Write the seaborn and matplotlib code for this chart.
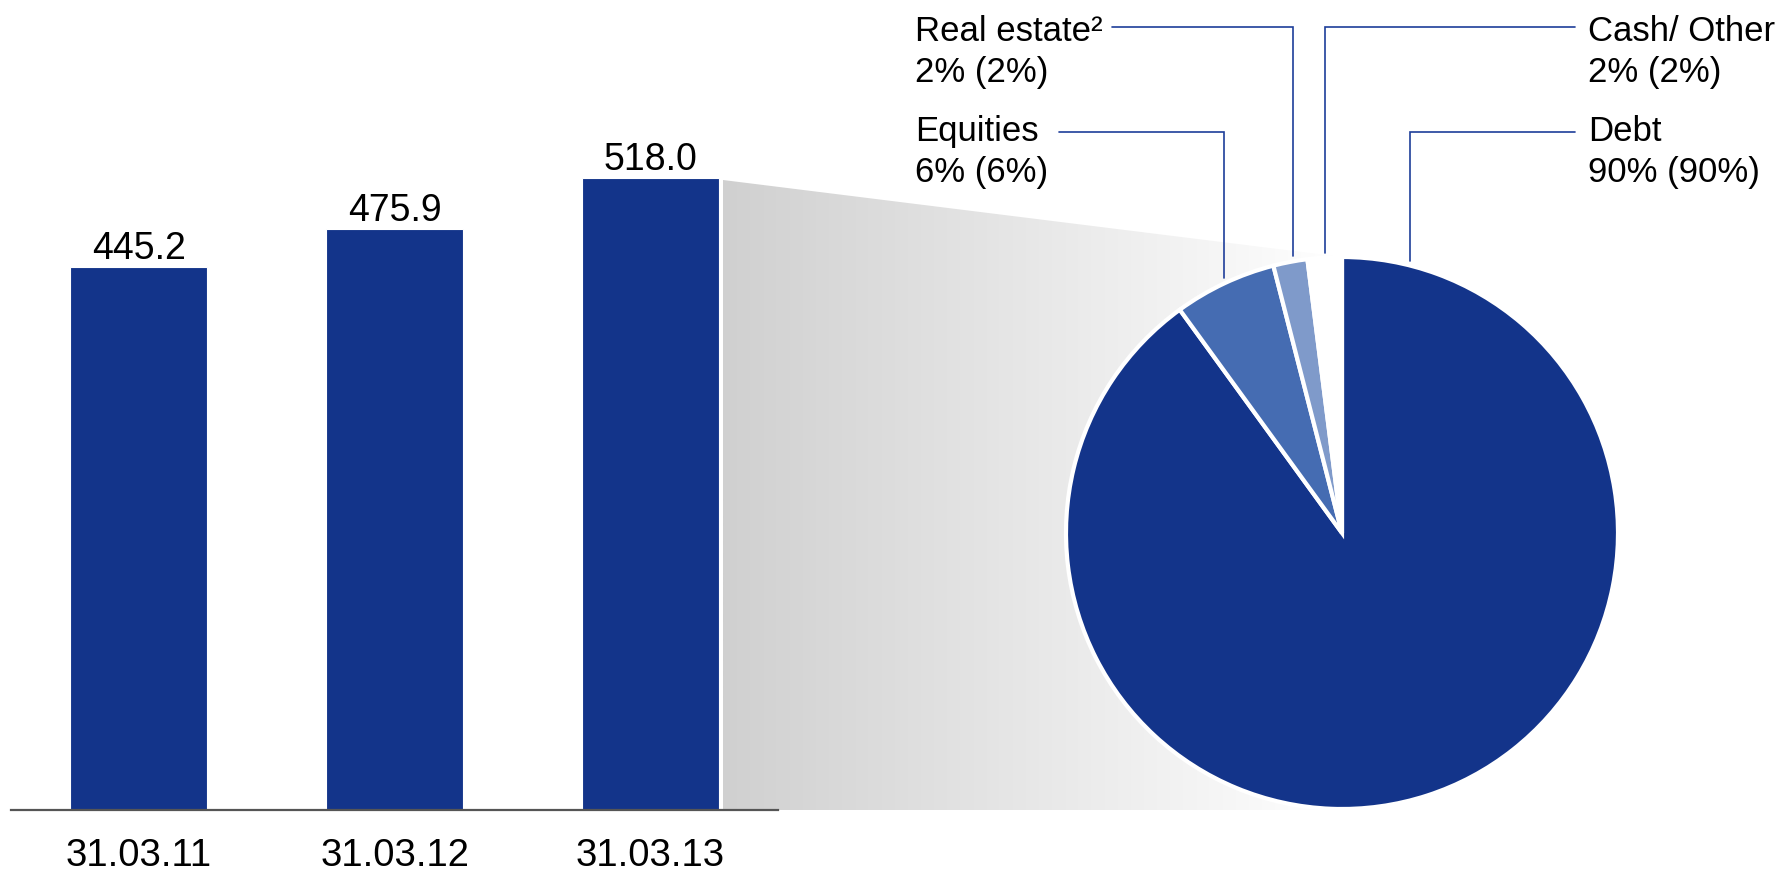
import numpy as np
import pandas as pd
import matplotlib
matplotlib.use("Agg")
import matplotlib.pyplot as plt
from matplotlib.colors import LinearSegmentedColormap
from matplotlib.patches import Polygon
import seaborn as sns

# ---- data -------------------------------------------------------------
dates = ["31.03.11", "31.03.12", "31.03.13"]
totals = [445.2, 475.9, 518.0]

asset_classes = ["Debt", "Equities", "Real estate²", "Cash/ Other"]
shares_now = [90, 6, 2, 2]
shares_prev = [90, 6, 2, 2]

# ---- style ------------------------------------------------------------
sns.set_theme(style="white")
plt.rcParams["font.family"] = ["Liberation Sans", "DejaVu Sans"]

NAVY = "#13348A"
slice_colors = [NAVY, "#456CB2", "#7F9ACA", "#FFFFFF"]
LEADER = "#1E3E9A"

W, H = 1789, 875
fig = plt.figure(figsize=(W / 100, H / 100), dpi=100)
fig.patch.set_facecolor("white")


def frac_box(x0, y0, x1, y1):
    """Pixel box (top-left origin) -> figure fraction rect."""
    return [x0 / W, 1 - y1 / H, (x1 - x0) / W, (y1 - y0) / H]


# background layer in pixel coordinates: gradient wedge, leader lines, labels
ax_bg = fig.add_axes([0, 0, 1, 1], zorder=0)
ax_bg.set_axis_off()

# ---- bar chart ---------------------------------------------------------
base_y = 810
px_per_unit = 1.22
ymax = 600
ax_bar = fig.add_axes(frac_box(11, base_y - ymax * px_per_unit, 778, base_y), zorder=2)
ax_bar.patch.set_alpha(0)
df = pd.DataFrame({"date": dates, "total": totals})
sns.barplot(data=df, x="date", y="total", color=NAVY, saturation=1, width=0.536,
            edgecolor="white", linewidth=0.8, ax=ax_bar)
ax_bar.set_xlim(-0.5, 2.5)
ax_bar.set_ylim(0, ymax)
ax_bar.set_xlabel("")
ax_bar.set_ylabel("")
ax_bar.set_yticks([])
for side in ["left", "right", "top"]:
    ax_bar.spines[side].set_visible(False)
ax_bar.spines["bottom"].set_color("#555555")
ax_bar.spines["bottom"].set_linewidth(1.6)
ax_bar.tick_params(axis="x", length=0, pad=20, labelsize=27.5, labelcolor="black")
for c in ax_bar.containers:
    ax_bar.bar_label(c, fmt="%.1f", padding=0, fontsize=27, color="black")

# ---- pie chart ---------------------------------------------------------
cx, cy, r = 1342, 533, 276
ax_pie = fig.add_axes(frac_box(cx - r, cy - r, cx + r, cy + r), zorder=3)
ax_pie.patch.set_alpha(0)
ax_pie.pie(shares_now, colors=slice_colors, startangle=90, counterclock=False,
           radius=1, wedgeprops=dict(edgecolor="white", linewidth=3))
ax_pie.set_xlim(-1, 1)
ax_pie.set_ylim(-1, 1)
ax_pie.set_axis_off()

# ---- grey gradient linking the last bar to the pie ----------------------
g_left, g_top = 723, 180
grad = np.linspace(0, 1, 256).reshape(1, -1)
cmap = LinearSegmentedColormap.from_list("fade", ["#d0d0d0", "#ffffff"])
img = ax_bg.imshow(grad, cmap=cmap, aspect="auto",
                   extent=(g_left, cx, base_y, g_top), zorder=0)
clip = Polygon([(g_left, g_top), (cx, cy - r), (cx, base_y), (g_left, base_y)],
               closed=True, transform=ax_bg.transData)
img.set_clip_path(clip)

# ---- slice labels with leader lines ------------------------------------
# (label x, baseline y of the second line, line start x, line y, anchor x on the pie)
label_layout = {
    "Debt": (1588, 182, 1575, 132, 1410),
    "Equities": (915, 182, 1059, 132, 1224),
    "Real estate²": (915, 82, 1112, 27, 1293),
    "Cash/ Other": (1588, 82, 1575, 27, 1325),
}
for name, now, prev in zip(asset_classes, shares_now, shares_prev):
    tx, ty, lx, ly, ax_x = label_layout[name]
    ax_bg.text(tx, ty, f"{name}\n{now}% ({prev}%)", fontsize=25, color="black",
               ha="left", va="baseline", linespacing=1.3)
    y_end = cy - np.sqrt(r ** 2 - (ax_x - cx) ** 2) - 5
    ax_bg.plot([lx, ax_x, ax_x], [ly, ly, y_end], color=LEADER, lw=1.2,
               solid_joinstyle="miter")

ax_bg.set_xlim(0, W)
ax_bg.set_ylim(H, 0)

fig.savefig("out.png", dpi=100, facecolor="white")
